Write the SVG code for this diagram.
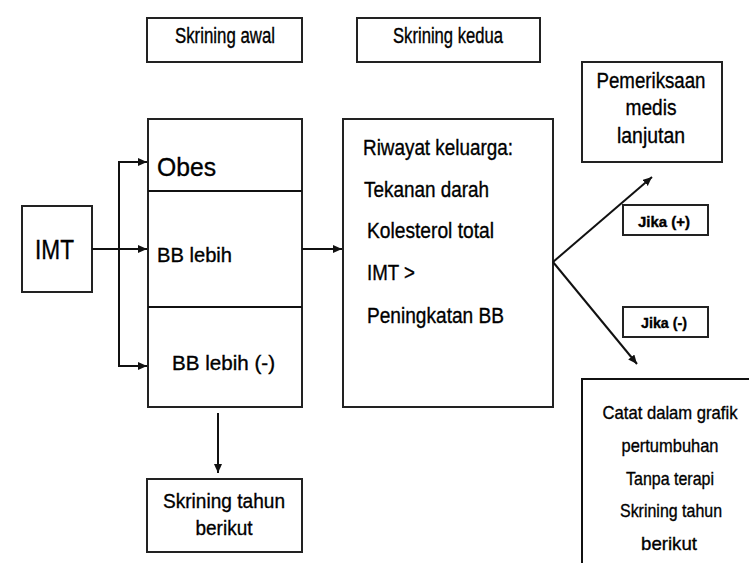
<svg xmlns="http://www.w3.org/2000/svg" width="749" height="563" viewBox="0 0 749 563">
<style>
.box{fill:#fff;stroke:#222;stroke-width:2}
.t{font-family:"Liberation Sans",Arial,sans-serif;fill:#000;stroke:#000;stroke-width:0.35}
.c{text-anchor:middle}
.ln{fill:none;stroke:#111;stroke-width:2}
</style>
<defs>
<marker id="ah" markerUnits="userSpaceOnUse" markerWidth="10" markerHeight="9" refX="9" refY="4" orient="auto">
<path d="M0,0 L9,4 L0,8 z" fill="#111"/>
</marker>
</defs>
<rect width="749" height="563" fill="#fff"/>

<g id="skrining-awal">
<rect class="box" x="147" y="18" width="155" height="44"/>
<text class="t c" x="225" y="43" font-size="22" textLength="100" lengthAdjust="spacingAndGlyphs">Skrining awal</text>
</g>
<g id="skrining-kedua">
<rect class="box" x="357" y="18" width="183" height="44"/>
<text class="t c" x="448" y="43" font-size="22" textLength="110" lengthAdjust="spacingAndGlyphs">Skrining kedua</text>
</g>
<g id="pemeriksaan">
<rect class="box" x="582" y="62" width="140" height="100"/>
<text class="t c" x="651" y="88" font-size="22" textLength="109" lengthAdjust="spacingAndGlyphs">Pemeriksaan</text>
<text class="t c" x="651" y="115" font-size="22" textLength="51" lengthAdjust="spacingAndGlyphs">medis</text>
<text class="t c" x="651" y="143" font-size="22" textLength="68" lengthAdjust="spacingAndGlyphs">lanjutan</text>
</g>
<g id="imt">
<rect class="box" x="22" y="206" width="70" height="86"/>
<text class="t" x="35" y="259" font-size="28" textLength="39" lengthAdjust="spacingAndGlyphs">IMT</text>
</g>
<g id="kategori">
<rect class="box" x="148" y="119" width="154" height="288"/>
<line class="ln" x1="148" y1="191" x2="302" y2="191"/>
<line class="ln" x1="148" y1="307" x2="302" y2="307"/>
<text class="t" x="157" y="176" font-size="26" textLength="59" lengthAdjust="spacingAndGlyphs">Obes</text>
<text class="t" x="157" y="262" font-size="21" textLength="75" lengthAdjust="spacingAndGlyphs">BB lebih</text>
<text class="t" x="172" y="370" font-size="21" textLength="103" lengthAdjust="spacingAndGlyphs">BB lebih  (-)</text>
</g>
<g id="riwayat">
<rect class="box" x="343" y="119" width="210" height="288"/>
<text class="t" x="363" y="155" font-size="22" textLength="150" lengthAdjust="spacingAndGlyphs">Riwayat keluarga:</text>
<text class="t" x="364" y="197" font-size="22" textLength="125" lengthAdjust="spacingAndGlyphs">Tekanan darah</text>
<text class="t" x="367" y="238" font-size="22" textLength="127" lengthAdjust="spacingAndGlyphs">Kolesterol total</text>
<text class="t" x="367" y="280" font-size="22" textLength="48" lengthAdjust="spacingAndGlyphs">IMT &gt;</text>
<text class="t" x="367" y="323" font-size="22" textLength="137" lengthAdjust="spacingAndGlyphs">Peningkatan BB</text>
</g>
<g id="jika-plus">
<rect class="box" x="623" y="205" width="85" height="30"/>
<text class="t c" x="664" y="227" font-size="14" font-weight="bold" textLength="52" lengthAdjust="spacingAndGlyphs">Jika (+)</text>
</g>
<g id="jika-minus">
<rect class="box" x="623" y="307" width="85" height="30"/>
<text class="t c" x="664" y="328" font-size="14" font-weight="bold" textLength="46" lengthAdjust="spacingAndGlyphs">Jika (-)</text>
</g>
<g id="catat">
<path class="ln" d="M749,379 H582 V563" stroke="#222"/>
<text class="t c" x="670" y="419" font-size="19" textLength="135" lengthAdjust="spacingAndGlyphs">Catat dalam grafik</text>
<text class="t c" x="670" y="452" font-size="19" textLength="97" lengthAdjust="spacingAndGlyphs">pertumbuhan</text>
<text class="t c" x="670" y="485" font-size="19" textLength="88" lengthAdjust="spacingAndGlyphs">Tanpa terapi</text>
<text class="t c" x="671" y="517" font-size="19" textLength="102" lengthAdjust="spacingAndGlyphs">Skrining tahun</text>
<text class="t c" x="669" y="550" font-size="19" textLength="56" lengthAdjust="spacingAndGlyphs">berikut</text>
</g>
<g id="skrining-tahun">
<rect class="box" x="147" y="479" width="155" height="73"/>
<text class="t c" x="224" y="508" font-size="21" textLength="122" lengthAdjust="spacingAndGlyphs">Skrining tahun</text>
<text class="t c" x="224" y="535" font-size="21" textLength="57" lengthAdjust="spacingAndGlyphs">berikut</text>
</g>

<g id="connectors">
<line class="ln" x1="92" y1="249" x2="147" y2="249" marker-end="url(#ah)"/>
<polyline class="ln" points="147,162 119,162 119,366 147,366" marker-end="url(#ah)"/>
<line class="ln" x1="119" y1="162" x2="147" y2="162" marker-end="url(#ah)"/>
<line class="ln" x1="302" y1="249" x2="342" y2="249" marker-end="url(#ah)"/>
<line class="ln" x1="553" y1="262" x2="652" y2="177" marker-end="url(#ah)"/>
<line class="ln" x1="553" y1="262" x2="637" y2="364" marker-end="url(#ah)"/>
<line class="ln" x1="218" y1="413" x2="218" y2="473" marker-end="url(#ah)"/>
</g>
</svg>
